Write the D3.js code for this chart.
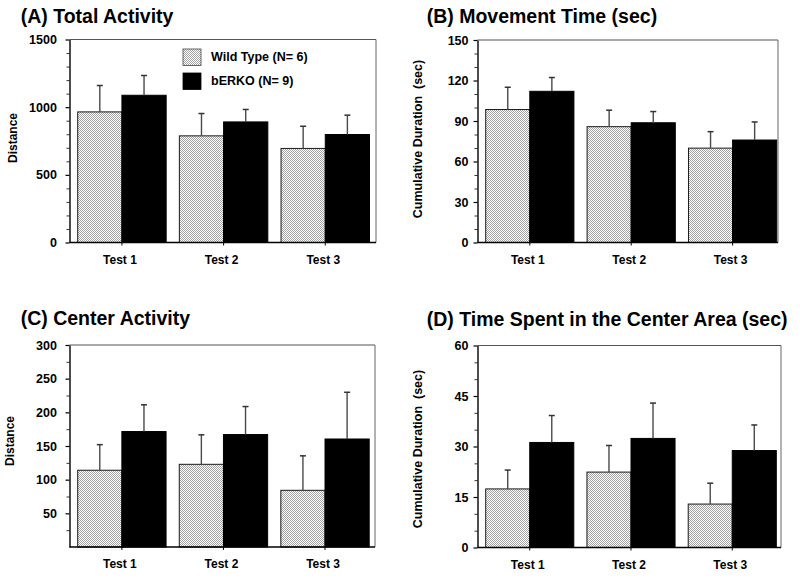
<!DOCTYPE html>
<html><head><meta charset="utf-8">
<script src="https://cdn.jsdelivr.net/npm/d3@7"></script>
<style>
body{margin:0;background:#fff;}
svg text{font-family:"Liberation Sans",Arial,Helvetica,sans-serif;font-weight:bold;fill:#000;}
</style></head><body>
<svg id="chart" width="800" height="586"></svg>
<script>
// ---------- data ----------
const categories = ["Test 1", "Test 2", "Test 3"];
const seriesNames = ["Wild Type (N= 6)", "bERKO (N= 9)"];

// (A) Total Activity
const totalWild = [965, 788, 695];
const totalWildSem = [195, 165, 164];
const totalBerko = [1088, 891, 798];
const totalBerkoSem = [146, 92, 143];
const totalTicks = [0, 500, 1000, 1500];

// (B) Movement Time
const moveWild = [98.5, 85.8, 69.9];
const moveWildSem = [16.5, 12.2, 12.2];
const moveBerko = [112, 88.7, 75.9];
const moveBerkoSem = [10.2, 8.3, 13.4];
const moveTicks = [0, 30, 60, 90, 120, 150];

// (C) Center Activity
const centerWild = [114, 122.8, 84.2];
const centerWildSem = [38, 43.8, 51.2];
const centerBerko = [171.5, 167, 160.4];
const centerBerkoSem = [39.7, 41.6, 69.4];
const centerTicks = [50, 100, 150, 200, 250, 300];

// (D) Time Spent in the Center Area
const timeWild = [17.4, 22.4, 12.9];
const timeWildSem = [5.6, 7.9, 6.2];
const timeBerko = [31.2, 32.4, 28.8];
const timeBerkoSem = [8.0, 10.5, 7.6];
const timeTicks = [0, 15, 30, 45, 60];

const panels = [
  {title: "(A) Total Activity", ylabel: "Distance", wild: totalWild, wildSem: totalWildSem,
   berko: totalBerko, berkoSem: totalBerkoSem, ticks: totalTicks, max: 1500, minorStep: 100, legend: true},
  {title: "(B) Movement Time (sec)", ylabel: "Cumulative Duration  (sec)", wild: moveWild, wildSem: moveWildSem,
   berko: moveBerko, berkoSem: moveBerkoSem, ticks: moveTicks, max: 150, minorStep: 10},
  {title: "(C) Center Activity", ylabel: "Distance", wild: centerWild, wildSem: centerWildSem,
   berko: centerBerko, berkoSem: centerBerkoSem, ticks: centerTicks, max: 300, minorStep: 25},
  {title: "(D) Time Spent in the Center Area (sec)", ylabel: "Cumulative Duration  (sec)", wild: timeWild, wildSem: timeWildSem,
   berko: timeBerko, berkoSem: timeBerkoSem, ticks: timeTicks, max: 60, minorStep: 5}
];

// ---------- layout ----------
const layouts = [
  {left: 69.5, right: 376, top: 39.5, bottom: 242.5, barStart: 77.7, barEnd: 369.5, titleX: 20.7, titleY: 22.7, ylabX: 13, ylabY: 138, labPad: 8.6, ylabSize: 12},
  {left: 477.5, right: 778, top: 40, bottom: 242.5, barStart: 485.7, barEnd: 776.7, titleX: 426.7, titleY: 22.7, ylabX: 417.5, ylabY: 139, labPad: 5, ylabSize: 12.5},
  {left: 69.5, right: 375, top: 345, bottom: 547, barStart: 77.7, barEnd: 369.2, titleX: 20.7, titleY: 325, ylabX: 9.5, ylabY: 441, labPad: 8.6, ylabSize: 12},
  {left: 477.5, right: 781, top: 345.5, bottom: 547.5, barStart: 485.7, barEnd: 776.3, titleX: 426.7, titleY: 326, ylabX: 418.3, ylabY: 449, labPad: 5, ylabSize: 12.5}
];

const svg = d3.select("#chart");
const defs = svg.append("defs");
const pat = defs.append("pattern").attr("id", "dots").attr("width", 2).attr("height", 2)
  .attr("patternUnits", "userSpaceOnUse");
pat.append("rect").attr("width", 2).attr("height", 2).attr("fill", "#ffffff");
pat.append("rect").attr("x", 0).attr("y", 0).attr("width", 1).attr("height", 1).attr("fill", "#a2a2a2");
pat.append("rect").attr("x", 1).attr("y", 1).attr("width", 1).attr("height", 1).attr("fill", "#a2a2a2");

const seriesKeys = ["wild", "berko"];
const seriesFill = {wild: "url(#dots)", berko: "#000"};

panels.forEach((p, i) => {
  const L = layouts[i];
  const g = svg.append("g");
  const y = d3.scaleLinear().domain([0, p.max]).range([L.bottom, L.top]);
  const x0 = d3.scaleBand().domain(categories).range([L.barStart, L.barEnd]).paddingInner(0.13).paddingOuter(0);
  const x1 = d3.scaleBand().domain(seriesKeys).range([0, x0.bandwidth()]);

  // title
  g.append("text").attr("x", L.titleX).attr("y", L.titleY).attr("font-size", 19.5).text(p.title);

  // frame (top/right)
  g.append("line").attr("x1", L.left).attr("x2", L.right).attr("y1", L.top).attr("y2", L.top)
    .attr("stroke", "#555").attr("stroke-width", 1.2);
  g.append("line").attr("x1", L.right).attr("x2", L.right).attr("y1", L.top).attr("y2", L.bottom)
    .attr("stroke", "#666").attr("stroke-width", 1);

  // flattened bar records (absolute coordinates, no fractional group transforms)
  const recs = [];
  categories.forEach((c, k) => {
    recs.push({cat: c, key: "wild", v: p.wild[k], e: p.wildSem[k]});
    recs.push({cat: c, key: "berko", v: p.berko[k], e: p.berkoSem[k]});
  });
  const bx = d => x0(d.cat) + x1(d.key);
  const cx = d => bx(d) + x1.bandwidth() / 2;

  g.selectAll("rect.bar").data(recs).join("rect").attr("class", "bar")
    .attr("x", bx).attr("width", x1.bandwidth())
    .attr("y", d => y(d.v)).attr("height", d => y(0) - y(d.v))
    .attr("fill", d => seriesFill[d.key])
    .attr("stroke", d => d.key === "wild" ? "#1a1a1a" : "#000").attr("stroke-width", 1);
  // error bars
  g.selectAll("line.err").data(recs).join("line").attr("class", "err")
    .attr("x1", cx).attr("x2", cx)
    .attr("y1", d => y(d.v)).attr("y2", d => y(d.v + d.e))
    .attr("stroke", "#4a4a4a").attr("stroke-width", 1.4);
  g.selectAll("line.cap").data(recs).join("line").attr("class", "cap")
    .attr("x1", d => cx(d) - 3).attr("x2", d => cx(d) + 3)
    .attr("y1", d => y(d.v + d.e)).attr("y2", d => y(d.v + d.e))
    .attr("stroke", "#333").attr("stroke-width", 1.5);

  // y axis: minor ticks
  const minorVals = d3.range(0, p.max + 1e-9, p.minorStep).filter(v => !p.ticks.includes(v) && v > 0);
  const minorAx = g.append("g").attr("transform", `translate(${L.left},0)`)
    .call(d3.axisLeft(y).tickValues(minorVals).tickFormat("").tickSize(3).tickSizeOuter(0));
  minorAx.select(".domain").remove();
  minorAx.selectAll("line").attr("stroke", "#333").attr("stroke-width", 1);
  // y axis: major ticks + labels
  const majorAx = g.append("g").attr("transform", `translate(${L.left},0)`)
    .call(d3.axisLeft(y).tickValues(p.ticks).tickFormat(d3.format("d")).tickSize(4).tickSizeOuter(0).tickPadding(L.labPad));
  majorAx.attr("font-family", null);
  majorAx.select(".domain").attr("stroke", "#000").attr("stroke-width", 1.4);
  majorAx.selectAll("line").attr("stroke", "#000").attr("stroke-width", 1.2);
  majorAx.selectAll("text").attr("font-size", 12.5).attr("fill", "#000");

  // x axis
  const xAx = g.append("g").attr("transform", `translate(0,${L.bottom})`)
    .call(d3.axisBottom(x0).tickSize(3).tickSizeOuter(0).tickPadding(9.5));
  xAx.select(".domain").remove();
  xAx.attr("font-family", null);
  xAx.selectAll("line").attr("stroke", "#000");
  xAx.selectAll("text").attr("font-size", 12).attr("dx", -2).attr("fill", "#000");
  g.append("line").attr("x1", L.left).attr("x2", L.right).attr("y1", L.bottom).attr("y2", L.bottom)
    .attr("stroke", "#000").attr("stroke-width", 1.4);

  // y label
  g.append("text").attr("transform", `translate(${L.ylabX},${L.ylabY}) rotate(-90)`)
    .attr("text-anchor", "middle").attr("dominant-baseline", "central")
    .attr("font-size", L.ylabSize).style("white-space", "pre").text(p.ylabel);

  // legend
  if (p.legend) {
    const lg = g.append("g");
    const items = seriesNames.map((n, k) => ({name: n, key: seriesKeys[k]}));
    const ly = d3.scaleBand().domain(items.map(d => d.key)).range([49, 91]).paddingInner(0.25);
    lg.selectAll("rect").data(items).join("rect")
      .attr("x", 183).attr("y", d => ly(d.key)).attr("width", 18).attr("height", 16.5)
      .attr("fill", d => seriesFill[d.key]).attr("stroke", d => d.key === "wild" ? "#444" : "#000").attr("stroke-width", 0.8);
    lg.selectAll("text").data(items).join("text")
      .attr("x", 211).attr("y", d => ly(d.key) + 11.5).attr("font-size", 12.5).text(d => d.name);
  }
});
</script>
</body></html>
